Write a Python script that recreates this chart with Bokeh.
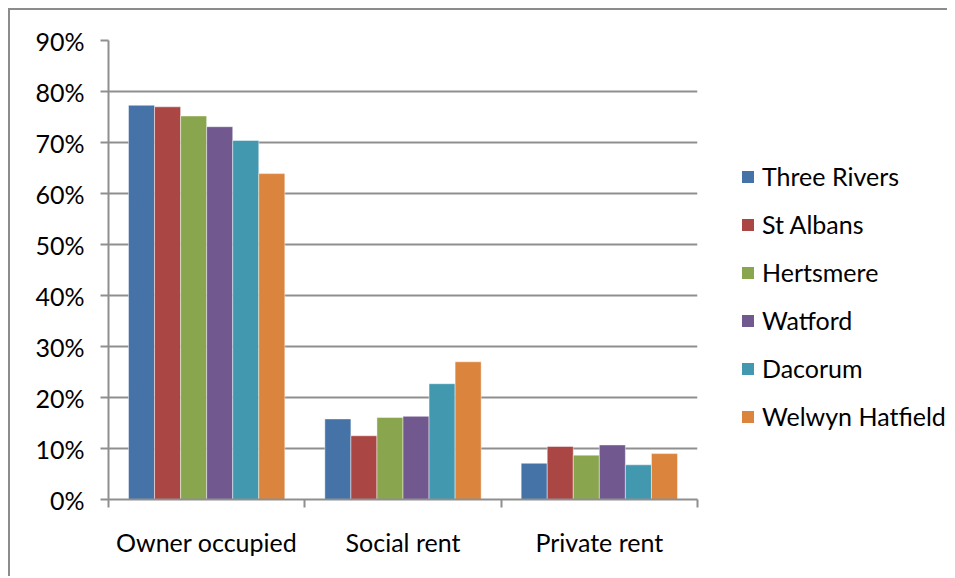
from bokeh.plotting import figure
from bokeh.layouts import row
from bokeh.models import Range1d, FixedTicker, NumeralTickFormatter, Legend, LegendItem, ColumnDataSource
from bokeh.embed import file_html
from bokeh.resources import INLINE

categories = ["Owner occupied", "Social rent", "Private rent"]
districts = ["Three Rivers", "St Albans", "Hertsmere", "Watford", "Dacorum", "Welwyn Hatfield"]
three_rivers = [0.773, 0.158, 0.071]
st_albans = [0.770, 0.125, 0.104]
hertsmere = [0.752, 0.161, 0.087]
watford = [0.731, 0.163, 0.107]
dacorum = [0.704, 0.227, 0.068]
welwyn_hatfield = [0.639, 0.270, 0.090]
y_ticks = [0.0, 0.1, 0.2, 0.3, 0.4, 0.5, 0.6, 0.7, 0.8, 0.9]

series = [three_rivers, st_albans, hertsmere, watford, dacorum, welwyn_hatfield]
colors = ["#4572A7", "#AA4643", "#89A54E", "#71588F", "#4198AF", "#DB843D"]

FONT = "Lato"
FS = "25px"
GRID = "#8f8f8f"

H = 566
p = figure(width=730, height=H, output_backend="svg", toolbar_location=None,
           x_range=Range1d(0, len(categories)), y_range=Range1d(0, 0.9),
           min_border_left=98, min_border_right=43, min_border_top=30, min_border_bottom=77)
p.outline_line_color = None
p.background_fill_color = "white"
p.border_fill_color = "white"

bw = 0.1327
for j, (name, vals, col) in enumerate(zip(districts, series, colors)):
    xs = [i + 0.5 + (j - 2.5) * bw for i in range(len(categories))]
    src = ColumnDataSource(dict(x=xs, top=vals))
    p.vbar(x="x", top="top", width=bw, bottom=0, source=src, fill_color=col,
           line_color="white", line_alpha=0.45, line_width=1)

# x axis
xa = p.xaxis[0]
xa.ticker = FixedTicker(ticks=[i + 0.5 for i in range(len(categories))],
                        minor_ticks=list(range(len(categories) + 1)))
xa.major_label_overrides = {i + 0.5: c for i, c in enumerate(categories)}
xa.major_tick_out = 0
xa.major_tick_in = 0
xa.minor_tick_out = 8
xa.minor_tick_in = 0
xa.minor_tick_line_color = GRID
xa.minor_tick_line_width = 2
xa.axis_line_color = GRID
xa.axis_line_width = 2
xa.major_label_standoff = 19
xa.major_label_text_font = FONT
xa.major_label_text_font_size = FS
xa.major_label_text_color = "black"

ya = p.yaxis[0]
ya.ticker = FixedTicker(ticks=y_ticks)
ya.formatter = NumeralTickFormatter(format="0%")
ya.major_tick_out = 8
ya.major_tick_in = 0
ya.major_tick_line_color = GRID
ya.major_tick_line_width = 2
ya.minor_tick_line_color = None
ya.axis_line_color = GRID
ya.axis_line_width = 2
ya.major_label_standoff = 16
ya.major_label_text_font = FONT
ya.major_label_text_font_size = FS
ya.major_label_text_color = "black"

p.xgrid.grid_line_color = None
p.ygrid.ticker = FixedTicker(ticks=y_ticks)
p.ygrid.grid_line_color = GRID
p.ygrid.grid_line_width = 2

# legend panel
lg = figure(width=207, height=H, output_backend="svg", toolbar_location=None,
            x_range=Range1d(0, 1), y_range=Range1d(0, 1),
            min_border_left=0, min_border_right=0, min_border_top=0, min_border_bottom=0)
lg.axis.visible = False
lg.grid.grid_line_color = None
lg.outline_line_color = None
items = []
for name, col in zip(districts, colors):
    r = lg.vbar(x=[0], top=[0], bottom=[0], width=0.0, fill_color=col, line_color=None)
    items.append(LegendItem(label=name, renderers=[r]))

legend = Legend(items=items, location=(0, 68), orientation="vertical")
legend.glyph_width = 15
legend.glyph_height = 15
legend.label_standoff = 7
legend.spacing = 18
legend.padding = 0
legend.margin = 0
legend.border_line_color = None
legend.background_fill_alpha = 0
legend.label_text_font = FONT
legend.label_text_font_size = FS
legend.label_text_color = "black"
lg.add_layout(legend, "center")

layout = row(p, lg)
layout.styles = {"border-left": "2px solid #8c8c8c", "border-top": "2px solid #8c8c8c",
                 "margin-left": "8px", "margin-top": "8px"}

open("out.html", "w").write(file_html(layout, INLINE))
